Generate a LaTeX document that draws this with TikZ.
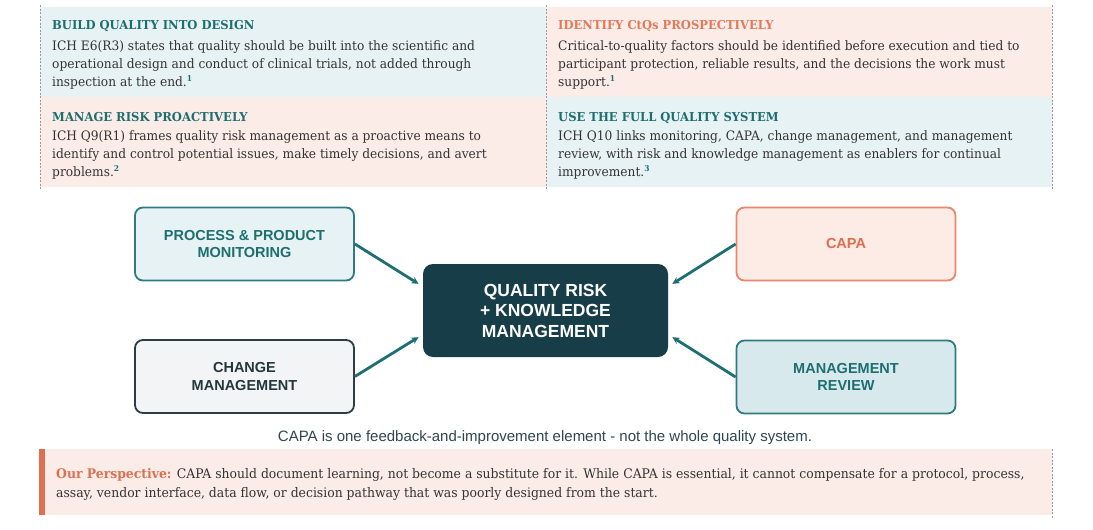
\documentclass[tikz,border=0pt]{standalone}
\usepackage{fontspec}
\setmainfont{DejaVu Serif}[FakeStretch=0.94]
\setsansfont{Liberation Sans}
\usetikzlibrary{arrows.meta}
\definecolor{ttlteal}{HTML}{1E6E70}
\definecolor{ttlorange}{HTML}{E07A5C}
\definecolor{bgblue}{HTML}{E7F2F4}
\definecolor{bgpink}{HTML}{FCECE7}
\definecolor{bodytext}{HTML}{333333}
\definecolor{divgray}{HTML}{9A9A9A}
\definecolor{procfill}{HTML}{E6F2F4}
\definecolor{procdraw}{HTML}{2F7B80}
\definecolor{chgfill}{HTML}{F2F4F6}
\definecolor{chgdraw}{HTML}{2C3E44}
\definecolor{chgtext}{HTML}{23373D}
\definecolor{capafill}{HTML}{FDEBE5}
\definecolor{capadraw}{HTML}{E9876E}
\definecolor{capatext}{HTML}{E06B4F}
\definecolor{mgmtfill}{HTML}{D7E9EC}
\definecolor{centerfill}{HTML}{173E48}
\definecolor{arrowteal}{HTML}{1F6E72}
\definecolor{captext}{HTML}{2E474D}
\definecolor{persp}{HTML}{DC7050}
\tikzset{
  ttl/.style={anchor=base west, inner sep=0pt, font=\fontsize{12.3}{15}\selectfont\bfseries},
  bodyline/.style={anchor=base west, inner sep=0pt, font=\fontsize{13}{15}\selectfont, text=bodytext},
  perspline/.style={anchor=base west, inner sep=0pt, font=\fontsize{13.2}{16}\selectfont, text=bodytext},
  divider/.style={draw=divgray, line width=0.6pt, dash pattern=on 2pt off 1.5pt},
  dbox/.style={rounded corners=8pt, line width=1.8pt, minimum width=219pt, minimum height=73pt,
    align=center, inner sep=0pt, font=\sffamily\bfseries\fontsize{14.5}{17.5}\selectfont},
  flow/.style={-{Stealth[length=7pt,width=7pt]}, line width=2.8pt, draw=arrowteal, shorten >=5pt},
}
\newcommand{\refsup}[1]{\raisebox{4.2pt}{\color{ttlteal}\fontsize{8}{8}\selectfont\bfseries #1}}
\begin{document}
\begin{tikzpicture}[x=1pt,y=-1pt]
\useasboundingbox[fill=white] (0,0) rectangle (1093,530);
% top panel backgrounds
\fill[bgblue] (40,7) rectangle (546,97);
\fill[bgpink] (546,7) rectangle (1052,97);
\fill[bgpink] (40,97) rectangle (546,187);
\fill[bgblue] (546,97) rectangle (1052,187);
\draw[divider] (40,5) -- (40,189);
\draw[divider] (546,5) -- (546,189);
\draw[divider] (1052,5) -- (1052,189);
% top-left cell
\node[ttl, text=ttlteal] (t1) at (52,30) {BUILD QUALITY INTO DESIGN};
\node[bodyline] (t1a) at (52,50) {ICH E6(R3) states that quality should be built into the scientific and};
\node[bodyline] (t1b) at (52,68) {operational design and conduct of clinical trials, not added through};
\node[bodyline] (t1c) at (52,86) {inspection at the end.\refsup{1}};
% top-right cell
\node[ttl, text=ttlorange] (t2) at (558,30) {IDENTIFY CtQs PROSPECTIVELY};
\node[bodyline] (t2a) at (558,50) {Critical-to-quality factors should be identified before execution and tied to};
\node[bodyline] (t2b) at (558,68) {participant protection, reliable results, and the decisions the work must};
\node[bodyline] (t2c) at (558,86) {support.\refsup{1}};
% bottom-left cell
\node[ttl, text=ttlteal] (t3) at (52,121) {MANAGE RISK PROACTIVELY};
\node[bodyline] (t3a) at (52,140) {ICH Q9(R1) frames quality risk management as a proactive means to};
\node[bodyline] (t3b) at (52,158) {identify and control potential issues, make timely decisions, and avert};
\node[bodyline] (t3c) at (52,176) {problems.\refsup{2}};
% bottom-right cell
\node[ttl, text=ttlteal] (t4) at (558,121) {USE THE FULL QUALITY SYSTEM};
\node[bodyline] (t4a) at (558,140) {ICH Q10 links monitoring, CAPA, change management, and management};
\node[bodyline] (t4b) at (558,158) {review, with risk and knowledge management as enablers for continual};
\node[bodyline] (t4c) at (558,176) {improvement.\refsup{3}};
% diagram
\node[dbox, fill=procfill, draw=procdraw, text=ttlteal] (proc) at (244.5,244) {PROCESS \& PRODUCT\\MONITORING};
\node[dbox, fill=chgfill, draw=chgdraw, text=chgtext] (chg) at (244.5,376.5) {CHANGE\\MANAGEMENT};
\node[dbox, fill=capafill, draw=capadraw, text=capatext] (capa) at (846,244) {CAPA};
\node[dbox, fill=mgmtfill, draw=procdraw, text=ttlteal] (mgmt) at (846,377) {MANAGEMENT\\REVIEW};
\node[rounded corners=10pt, fill=centerfill, minimum width=245pt, minimum height=93pt, inner sep=0pt,
  align=center, text=white, font=\sffamily\bfseries\fontsize{17.5}{20.5}\selectfont] (qrk) at (545.5,310.5)
  {QUALITY RISK\\+ KNOWLEDGE\\MANAGEMENT};
\draw[flow] (proc.east) -- ([yshift=24pt]qrk.west);
\draw[flow] (chg.east) -- ([yshift=-24pt]qrk.west);
\draw[flow] (capa.west) -- ([yshift=24pt]qrk.east);
\draw[flow] (mgmt.west) -- ([yshift=-24pt]qrk.east);
\node[anchor=base, inner sep=0pt, text=captext, font=\sffamily\fontsize{15}{18}\selectfont] (cap) at (545,441)
  {CAPA is one feedback-and-improvement element - not the whole quality system.};
% bottom panel
\fill[bgpink] (40,449) rectangle (1052,515);
\fill[persp] (39,449) rectangle (44.5,515);
\draw[divider] (1052,449) -- (1052,518);
\node[perspline] (p1) at (56,478) {{\bfseries\color{persp}Our Perspective:} CAPA should document learning, not become a substitute for it. While CAPA is essential, it cannot compensate for a protocol, process,};
\node[perspline] (p2) at (56,497) {assay, vendor interface, data flow, or decision pathway that was poorly designed from the start.};
\end{tikzpicture}
\end{document}
